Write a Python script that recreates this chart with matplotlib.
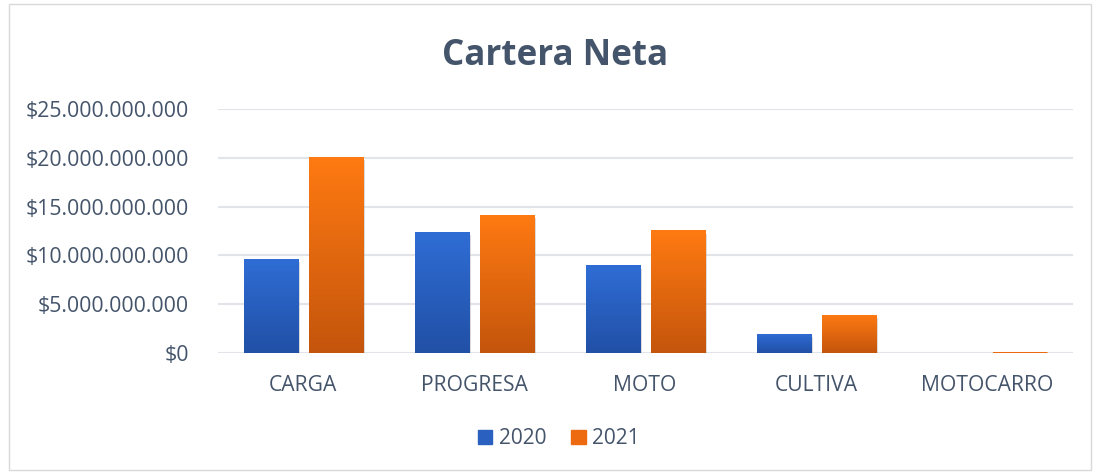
import matplotlib
matplotlib.use("Agg")
import matplotlib.pyplot as plt
import numpy as np
from matplotlib.colors import LinearSegmentedColormap
from matplotlib.patches import Rectangle
import matplotlib.patheffects as pe
from matplotlib.ticker import FuncFormatter

categories = ["CARGA", "PROGRESA", "MOTO", "CULTIVA", "MOTOCARRO"]
values_2020 = [9.65e9, 12.4e9, 9.0e9, 1.95e9, 0.0]
values_2021 = [20.1e9, 14.15e9, 12.6e9, 3.9e9, 0.06e9]
series_labels = ["2020", "2021"]
yticks = [0, 5e9, 10e9, 15e9, 20e9, 25e9]

text_color = "#44546A"
grid_color = "#E1E4E8"

fig = plt.figure(figsize=(11, 4.74), dpi=100)
fig.patches.append(Rectangle((0.008, 0.008), 0.984, 0.984, transform=fig.transFigure,
                             fill=False, edgecolor="#D9D9D9", linewidth=1.0))
ax = fig.add_axes([0.198, 0.2553, 0.777, 0.5147])

x = np.arange(len(categories))
w = 0.316
off = (w + 0.064) / 2

cmaps = [LinearSegmentedColormap.from_list("b", ["#2150A6", "#2F6DD5"]),
         LinearSegmentedColormap.from_list("o", ["#C4550C", "#FF7A12"])]
solid = ["#2A60C0", "#EE6A10"]

grad = np.linspace(0, 1, 256).reshape(-1, 1)
for i, (vals, cm) in enumerate(zip([values_2020, values_2021], cmaps)):
    pos = x - off if i == 0 else x + off
    bars = ax.bar(pos, vals, width=w, color=solid[i], zorder=3, label=series_labels[i],
                  path_effects=[pe.SimplePatchShadow(offset=(1.5, -2.5), shadow_rgbFace="#9A9A9A", alpha=0.35),
                                pe.Normal()])
    for b in bars:
        h = b.get_height()
        if h <= 0:
            continue
        x0 = b.get_x()
        im = ax.imshow(grad, cmap=cm, origin="lower", aspect="auto",
                       extent=[x0, x0 + b.get_width(), 0, h], zorder=4,
                       alpha=0.45 if h < 0.2e9 else 1.0)
        im.set_clip_path(b)

ax.set_xlim(-0.5, len(categories) - 0.5)
ax.set_ylim(0, 25e9)
ax.set_yticks(yticks)
ax.yaxis.set_major_formatter(FuncFormatter(lambda v, p: "$" + f"{int(v):,}".replace(",", ".")))
ax.set_xticks(x)
ax.set_xticklabels(categories)
ax.grid(axis="y", color=grid_color, linewidth=1.5, zorder=0)
ax.set_axisbelow(True)
for s in ax.spines.values():
    s.set_visible(False)
ax.tick_params(axis="both", length=0, labelcolor=text_color)
ax.tick_params(axis="y", labelsize=15.3, pad=21)
ax.tick_params(axis="x", labelsize=15.2, pad=16)
for t in ax.get_xticklabels() + ax.get_yticklabels():
    t.set_fontfamily("Open Sans")

fig.text(0.505, 0.882, "Cartera Neta", ha="center", va="center", fontsize=25.2,
         fontweight="bold", color=text_color, family="Open Sans")

leg = fig.legend(handles=[Rectangle((0, 0), 1, 1, color="#2A60C0"), Rectangle((0, 0), 1, 1, color="#EE6A10")],
                 labels=series_labels, loc="center", bbox_to_anchor=(0.508, 0.074), ncol=2,
                 frameon=False, handlelength=0.7, handleheight=0.7, handletextpad=0.3,
                 columnspacing=1.2, prop={"family": "Open Sans", "size": 15})
for t in leg.get_texts():
    t.set_color(text_color)

fig.savefig("out.png", dpi=100)
